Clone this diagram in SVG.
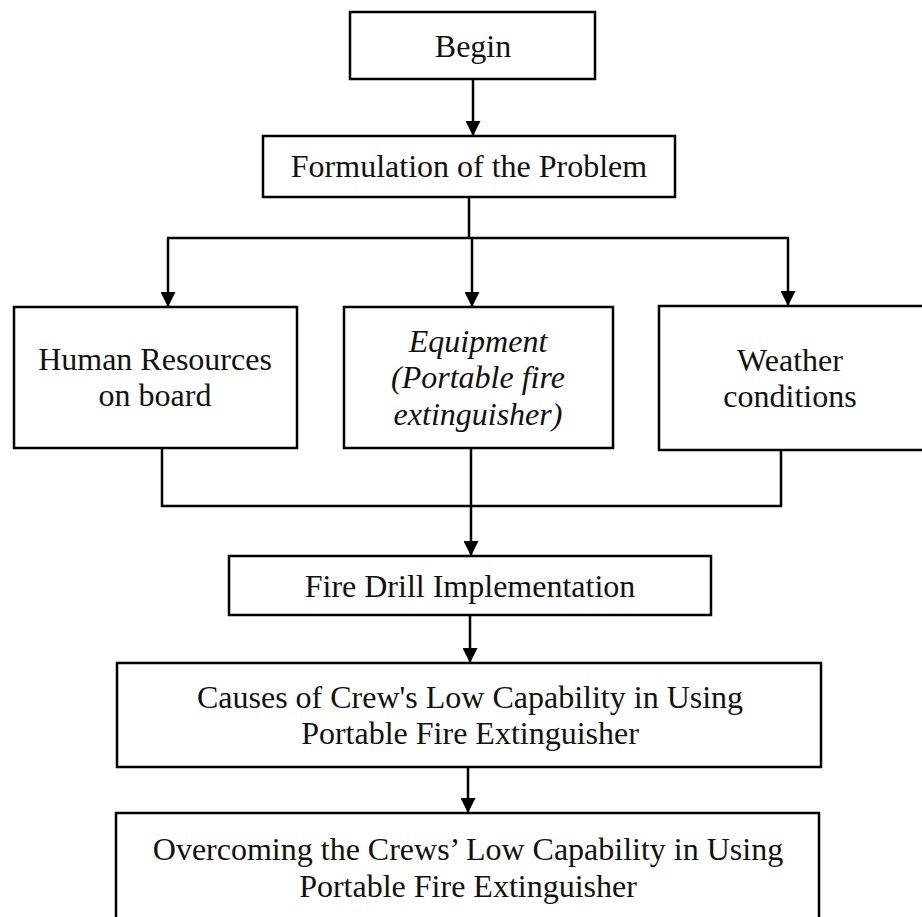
<svg xmlns="http://www.w3.org/2000/svg" width="922" height="917" viewBox="0 0 922 917">
<style>
.box{fill:#fff;stroke:#000;stroke-width:2.5}
.ln{fill:none;stroke:#000;stroke-width:2.5}
text{font-family:"Liberation Serif","Times New Roman",serif;font-size:32px;fill:#111;text-anchor:middle}
.it{font-style:italic}
</style>
<defs>
<marker id="ah" markerUnits="userSpaceOnUse" markerWidth="16" markerHeight="15" refX="15" refY="7.5" orient="auto">
<path d="M0,0 L15,7.5 L0,15 z" fill="#000"/>
</marker>
</defs>
<rect width="922" height="917" fill="#fff"/>
<g id="connectors">
<path class="ln" d="M473,79 L473,136" marker-end="url(#ah)"/>
<path class="ln" d="M469,198 L469,238 M167,238 L789,238"/>
<path class="ln" d="M168,238 L168,307" marker-end="url(#ah)"/>
<path class="ln" d="M472,238 L472,307" marker-end="url(#ah)"/>
<path class="ln" d="M788,238 L788,306" marker-end="url(#ah)"/>
<path class="ln" d="M162,448 L162,506 L781,506 L781,450"/>
<path class="ln" d="M471,448 L471,556" marker-end="url(#ah)"/>
<path class="ln" d="M470,615 L470,663" marker-end="url(#ah)"/>
<path class="ln" d="M468,767 L468,813" marker-end="url(#ah)"/>
</g>
<g id="begin">
<rect class="box" x="350" y="12" width="245" height="67"/>
<text x="473" y="57">Begin</text>
</g>
<g id="formulation">
<rect class="box" x="263" y="136" width="412" height="61"/>
<text x="469" y="177">Formulation of the Problem</text>
</g>
<g id="human">
<rect class="box" x="14" y="307" width="283" height="141"/>
<text x="155" y="370">Human Resources</text>
<text x="155" y="406">on board</text>
</g>
<g id="equipment">
<rect class="box" x="344" y="307" width="269" height="141"/>
<text class="it" x="478" y="352">Equipment</text>
<text class="it" x="478" y="388">(Portable fire</text>
<text class="it" x="478" y="425">extinguisher)</text>
</g>
<g id="weather">
<rect class="box" x="659" y="306" width="275" height="144"/>
<text x="790" y="371">Weather</text>
<text x="790" y="407">conditions</text>
</g>
<g id="firedrill">
<rect class="box" x="229" y="556" width="482" height="59"/>
<text x="470" y="597">Fire Drill Implementation</text>
</g>
<g id="causes">
<rect class="box" x="117" y="663" width="704" height="104"/>
<text x="470" y="708">Causes of Crew's Low Capability in Using</text>
<text x="470" y="744">Portable Fire Extinguisher</text>
</g>
<g id="overcoming">
<rect class="box" x="116" y="813" width="703" height="130"/>
<text x="468" y="860">Overcoming the Crews’ Low Capability in Using</text>
<text x="468" y="897">Portable Fire Extinguisher</text>
</g>
</svg>
